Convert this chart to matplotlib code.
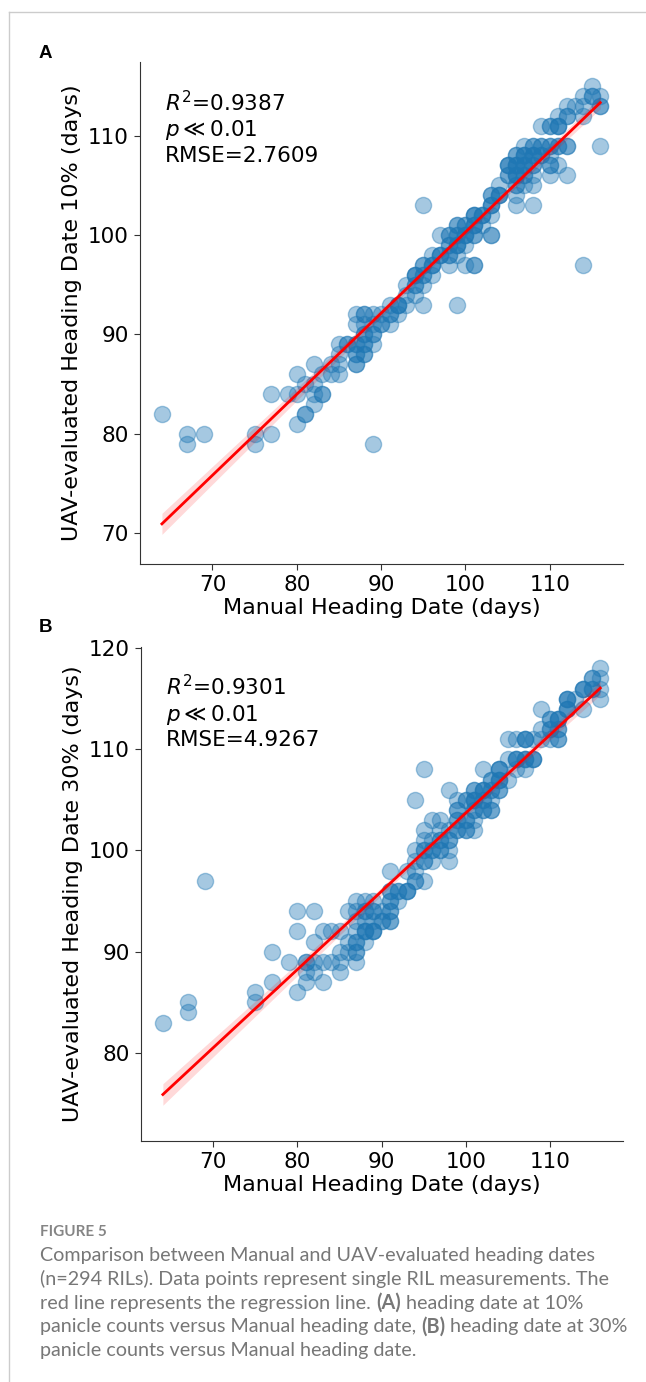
import numpy as np
import matplotlib
matplotlib.use('Agg')
import matplotlib.pyplot as plt
from matplotlib.lines import Line2D

W, H = 646, 1382

# Panel A: manual heading date vs UAV heading date at 10% panicle count.
# Each spot is one (x, y) pair, a_n is how many RILs sit on that spot.
a_x = [64, 67, 67, 69, 75, 75, 77, 77, 79, 80, 80, 80, 81, 81, 82, 82, 82, 82, 83, 83,
       84, 84, 85, 85, 85, 85, 86, 87, 88, 89, 87, 88, 87, 89, 88, 89, 87, 88, 89, 90,
       91, 87, 88, 89, 90, 91, 92, 91, 92, 93, 95, 99, 93, 94, 93, 94, 95, 94, 95, 96,
       95, 96, 98, 100, 101, 96, 97, 98, 99, 98, 99, 100, 97, 98, 99, 100, 101, 103, 99, 100,
       101, 102, 101, 102, 103, 95, 103, 106, 108, 103, 104, 106, 104, 106, 107, 108, 105, 106, 107, 108,
       110, 112, 105, 106, 107, 108, 110, 111, 106, 107, 108, 109, 110, 107, 108, 109, 110, 111, 112, 114,
       116, 109, 110, 111, 111, 112, 114, 112, 113, 114, 116, 114, 115, 116, 115]
a_y = [82, 80, 79, 80, 80, 79, 80, 84, 84, 84, 86, 81, 85, 82, 87, 85, 84, 83, 86, 84,
       87, 86, 87, 86, 88, 89, 89, 89, 89, 89, 88, 88, 87, 79, 90, 90, 91, 91, 91, 91,
       91, 92, 92, 92, 92, 92, 92, 93, 93, 93, 93, 93, 94, 94, 95, 95, 95, 96, 96, 96,
       97, 97, 97, 97, 97, 98, 98, 98, 98, 99, 99, 99, 100, 100, 100, 100, 100, 100, 101, 101,
       101, 101, 102, 102, 102, 103, 103, 103, 103, 104, 104, 104, 105, 105, 105, 105, 106, 106, 106, 106,
       106, 106, 107, 107, 107, 107, 107, 107, 108, 108, 108, 108, 108, 109, 109, 109, 109, 109, 109, 97,
       109, 111, 111, 111, 112, 112, 112, 113, 113, 113, 113, 114, 114, 114, 115]
a_n = [1, 1, 1, 1, 1, 1, 1, 1, 1, 1, 1, 1, 1, 2, 1, 1, 1, 1, 1, 2,
       1, 1, 1, 1, 1, 1, 2, 2, 2, 1, 2, 2, 2, 1, 2, 2, 1, 1, 1, 2,
       1, 1, 2, 1, 1, 2, 1, 1, 3, 1, 1, 1, 1, 1, 1, 2, 1, 3, 2, 1,
       2, 3, 1, 1, 2, 1, 3, 2, 1, 2, 3, 1, 1, 2, 2, 3, 2, 2, 2, 2,
       3, 1, 3, 3, 1, 1, 3, 1, 1, 2, 3, 1, 1, 2, 1, 1, 2, 3, 2, 1,
       1, 1, 3, 3, 3, 2, 2, 1, 2, 3, 3, 2, 1, 1, 2, 2, 2, 2, 2, 1,
       1, 1, 2, 3, 1, 2, 1, 1, 1, 1, 2, 1, 2, 1, 1]

# Panel B: manual heading date vs UAV heading date at 30% panicle count.
b_x = [64, 67, 67, 69, 75, 75, 77, 77, 79, 80, 80, 80, 81, 81, 81, 82, 82, 82, 82, 83,
       83, 83, 84, 84, 85, 85, 85, 85, 86, 86, 86, 87, 87, 87, 87, 87, 87, 87, 88, 88,
       88, 88, 88, 89, 89, 89, 89, 90, 90, 91, 91, 91, 91, 91, 92, 92, 93, 93, 94, 94,
       94, 94, 94, 95, 95, 95, 95, 95, 95, 96, 96, 96, 96, 97, 97, 97, 97, 98, 98, 98,
       98, 98, 99, 99, 99, 99, 100, 100, 100, 101, 101, 101, 101, 101, 102, 102, 102, 102, 103, 103,
       103, 103, 104, 104, 104, 105, 105, 105, 106, 106, 106, 107, 107, 107, 108, 108, 109, 109, 109, 110,
       110, 110, 111, 111, 111, 112, 112, 113, 114, 114, 115, 115, 116, 116, 116, 116]
b_y = [83, 84, 85, 97, 85, 86, 87, 90, 89, 86, 92, 94, 87, 88, 89, 88, 89, 91, 94, 87,
       89, 92, 89, 92, 88, 89, 90, 92, 90, 91, 94, 89, 90, 91, 92, 93, 94, 95, 91, 92,
       93, 94, 95, 92, 93, 94, 95, 93, 94, 93, 94, 95, 96, 98, 95, 96, 96, 98, 97, 98,
       99, 100, 105, 97, 99, 100, 101, 102, 108, 99, 100, 101, 103, 100, 101, 102, 103, 99, 100, 101,
       102, 106, 102, 103, 104, 105, 102, 103, 105, 102, 103, 104, 105, 106, 104, 105, 106, 108, 104, 105,
       106, 107, 106, 107, 108, 107, 109, 111, 108, 109, 111, 108, 109, 111, 109, 111, 111, 112, 114, 111,
       112, 113, 111, 112, 113, 114, 115, 115, 114, 116, 116, 117, 115, 116, 117, 118]
b_n = [1, 1, 1, 1, 1, 1, 1, 1, 1, 1, 1, 1, 1, 1, 2, 1, 1, 1, 1, 1,
       1, 1, 1, 1, 1, 1, 1, 1, 1, 1, 1, 1, 2, 2, 1, 1, 1, 1, 1, 3,
       1, 2, 1, 3, 1, 2, 1, 2, 1, 2, 2, 2, 2, 1, 1, 2, 3, 1, 2, 1,
       1, 1, 1, 1, 2, 2, 1, 1, 1, 1, 2, 1, 1, 2, 2, 1, 1, 1, 1, 2,
       1, 1, 2, 2, 2, 1, 2, 2, 2, 1, 1, 2, 3, 2, 2, 2, 3, 1, 2, 1,
       2, 2, 2, 3, 3, 1, 1, 1, 1, 3, 1, 1, 3, 3, 3, 1, 1, 1, 1, 1,
       2, 2, 2, 2, 3, 3, 3, 1, 1, 3, 2, 2, 1, 1, 1, 1]

a_stats = '$R^2$=0.9387\n$p \\ll 0.01$\nRMSE=2.7609'
b_stats = '$R^2$=0.9301\n$p \\ll 0.01$\nRMSE=4.9267'

caption = [
    [('Comparison between Manual and UAV-evaluated heading dates', False)],
    [('(n=294 RILs). Data points represent single RIL measurements. The', False)],
    [('red line represents the regression line. ', False), ('(A)', True),
     (' heading date at 10%', False)],
    [('panicle counts versus Manual heading date, ', False), ('(B)', True),
     (' heading date at 30%', False)],
    [('panicle counts versus Manual heading date.', False)],
]

blue = '#1f77b4'
fs = 15.5


def px_axes(fig, left, top, right, bottom):
    return fig.add_axes([left / W, 1 - bottom / H, (right - left) / W, (bottom - top) / H])


def panel(ax, x, y, n, ylim, yticks, ylabel, stats):
    xs = np.repeat(np.array(x, float), n)
    ys = np.repeat(np.array(y, float), n)
    ax.scatter(xs, ys, s=135, color=blue, alpha=0.4, linewidths=1.0, zorder=2)
    # least squares fit with a 95% confidence band
    k, b = np.polyfit(xs, ys, 1)
    grid = np.linspace(xs.min(), xs.max(), 100)
    fit = k * grid + b
    res = ys - (k * xs + b)
    s = np.sqrt((res ** 2).sum() / (len(xs) - 2))
    se = s * np.sqrt(1 / len(xs) + (grid - xs.mean()) ** 2 / ((xs - xs.mean()) ** 2).sum())
    ax.fill_between(grid, fit - 1.97 * se, fit + 1.97 * se, color='red', alpha=0.15,
                    lw=0, zorder=3)
    ax.plot(grid, fit, color='red', lw=2, zorder=4)
    ax.set_xlim(61.4, 118.7)
    ax.set_ylim(*ylim)
    ax.set_xticks([70, 80, 90, 100, 110])
    ax.set_yticks(yticks)
    ax.tick_params(labelsize=fs, length=4.5, color='#333333')
    for sp in ['top', 'right']:
        ax.spines[sp].set_visible(False)
    for sp in ['left', 'bottom']:
        ax.spines[sp].set_color('#333333')
    ax.set_xlabel('Manual Heading Date (days)', fontsize=fs + 0.5, labelpad=2)
    ax.set_ylabel(ylabel, fontsize=fs + 0.5, labelpad=4)
    ax.text(0.052, 0.945, stats, transform=ax.transAxes, va='top', ha='left',
            fontsize=fs, linespacing=1.2)


fig = plt.figure(figsize=(W / 100, H / 100), dpi=100)

ax_a = px_axes(fig, 140, 62, 623, 564)
panel(ax_a, a_x, a_y, a_n, (66.9, 117.4), [70, 80, 90, 100, 110],
      'UAV-evaluated Heading Date 10% (days)', a_stats)
ax_b = px_axes(fig, 141, 647, 623, 1141)
panel(ax_b, b_x, b_y, b_n, (71.3, 120.1), [80, 90, 100, 110, 120],
      'UAV-evaluated Heading Date 30% (days)', b_stats)

fig.text(39 / W, 1 - 54 / H, 'A', fontsize=13.5, weight='bold', family='Liberation Sans',
         va='center', ha='left')
fig.text(39 / W, 1 - 628 / H, 'B', fontsize=13.5, weight='bold', family='Liberation Sans',
         va='center', ha='left')

# page frame lines
fig.add_artist(Line2D([9 / W, 1], [1 - 11.5 / H, 1 - 11.5 / H], color='#cccccc', lw=1))
fig.add_artist(Line2D([9 / W, 9 / W], [0, 1 - 11.5 / H], color='#cccccc', lw=1))

grey = '#777777'
fig.text(40 / W, 1 - 1232 / H, 'FIGURE 5', fontsize=11, weight='bold', family='Lato',
         color='#858585', va='center', ha='left')

fig.canvas.draw()
renderer = fig.canvas.get_renderer()
for i, line in enumerate(caption):
    y = 1255.5 + i * 23.8
    x = 40
    for txt, bold in line:
        t = fig.text(x / W, 1 - y / H, txt, fontsize=14.2, family='Lato',
                     weight='bold' if bold else 'normal', color=grey, va='center', ha='left')
        x += t.get_window_extent(renderer).width

fig.savefig('out.png', dpi=100)
